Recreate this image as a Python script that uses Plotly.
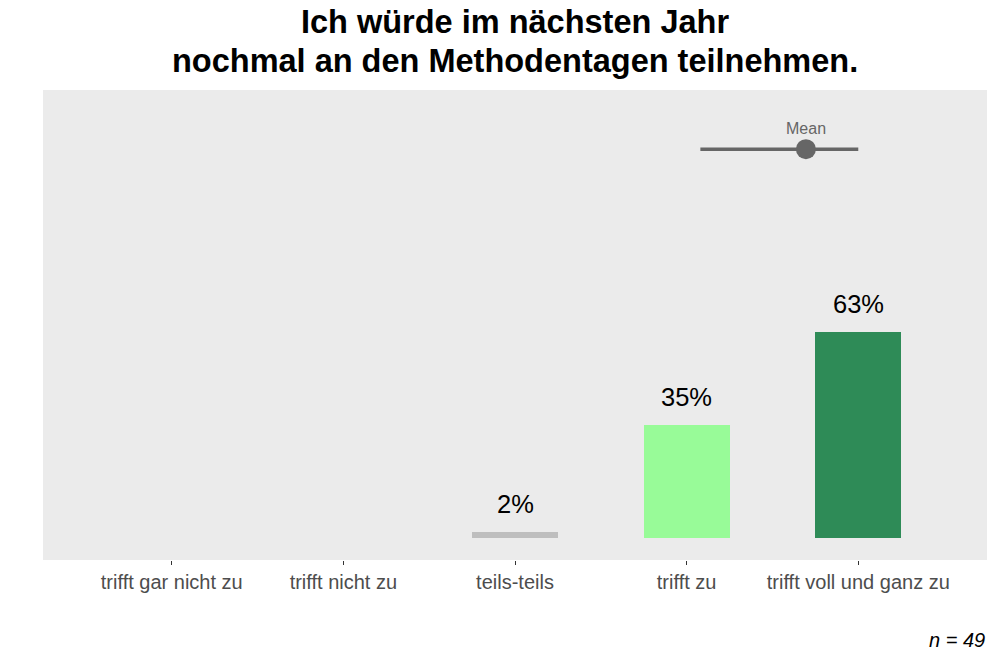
import plotly.graph_objects as go

categories = ["trifft gar nicht zu", "trifft nicht zu", "teils-teils", "trifft zu", "trifft voll und ganz zu"]
positions = [1, 2, 3, 4, 5]
percent_values = [0.0, 0.0, 2.04, 34.69, 63.27]
percent_labels = ["", "", "2%", "35%", "63%"]
bar_colors = ["#BEBEBE", "#BEBEBE", "#BEBEBE", "#98FB98", "#2E8B57"]
mean_value = 4.695
mean_range = [4.08, 5.0]
n_text = "n = 49"
title_lines = ["Ich würde im nächsten Jahr", "nochmal an den Methodentagen teilnehmen."]

FONT = "Liberation Sans, Arial, sans-serif"
MEAN_Y = 119.1
MEAN_LABEL_Y = 125.3

fig = go.Figure()
fig.add_trace(go.Bar(
    x=positions, y=percent_values, width=0.5,
    marker=dict(color=bar_colors, line=dict(width=0)),
    hoverinfo="skip", showlegend=False,
))
fig.add_trace(go.Scatter(
    x=mean_range, y=[MEAN_Y, MEAN_Y], mode="lines",
    line=dict(color="#666666", width=3.5), showlegend=False, hoverinfo="skip",
))
fig.add_trace(go.Scatter(
    x=[mean_value], y=[MEAN_Y], mode="markers",
    marker=dict(color="#666666", size=20, line=dict(width=0)),
    showlegend=False, hoverinfo="skip",
))
fig.add_annotation(x=mean_value, y=MEAN_LABEL_Y, text="Mean", showarrow=False,
                   font=dict(family=FONT, size=16, color="#666666"), yanchor="middle")

for p, v, lab in zip(positions, percent_values, percent_labels):
    if lab:
        fig.add_annotation(x=p, y=v, text=lab, showarrow=False, yanchor="middle",
                           yshift=28, font=dict(family=FONT, size=25.5, color="#000000"))

# title (two lines, centred over the panel)
for line, shift in zip(title_lines, [68, 29]):
    fig.add_annotation(x=0.5, y=1, xref="paper", yref="paper", xanchor="center",
                       yanchor="middle", yshift=shift, text="<b>" + line + "</b>",
                       showarrow=False, font=dict(family=FONT, size=32.5, color="#000000"))

fig.add_annotation(x=1, y=0, xref="paper", yref="paper", xanchor="right", yanchor="middle",
                   yshift=-80, text="<i>" + n_text + "</i>", showarrow=False,
                   font=dict(family=FONT, size=20, color="#000000"))

fig.update_layout(
    width=1000, height=666,
    margin=dict(l=43, r=13, t=90, b=106),
    paper_bgcolor="white", plot_bgcolor="#EBEBEB",
    font=dict(family=FONT),
    bargap=0,
)
fig.update_xaxes(
    range=[0.25, 5.75], tickmode="array", tickvals=positions, ticktext=categories,
    ticks="outside", ticklen=4, tickwidth=1.2, tickcolor="#333333",
    tickfont=dict(family=FONT, size=20, color="#4D4D4D"),
    showgrid=False, zeroline=False, showline=False, fixedrange=True,
)
fig.update_yaxes(
    range=[-6.65, 137.2], showticklabels=False, ticks="", showgrid=False,
    zeroline=False, showline=False, fixedrange=True,
)

fig.write_html("out.html")
